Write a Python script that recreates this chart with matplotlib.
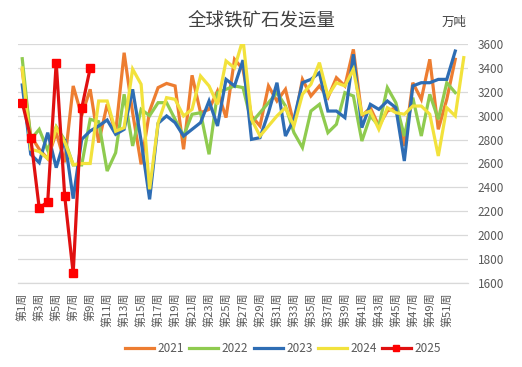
import matplotlib
matplotlib.use("Agg")
import matplotlib.pyplot as plt
import numpy as np

plt.rcParams['font.family'] = ['Noto Sans CJK SC', 'DejaVu Sans']

title = "全球铁矿石发运量"
unit = "万吨"

y2021 = [3380, 2830, 2720, 2640, 2860, 2610, 3249, 3000, 3221, 2775,
         3095, 2858, 3527, 3025, 2593, 3039, 3235, 3270, 3249, 2719,
         3338, 3025, 3053, 3207, 2984, 3472, 3388, 2998, 2914, 3249,
         3123, 3221, 2928, 3304, 3165, 3249, 3151, 3318, 3249, 3555,
         2998, 3067, 2914, 3039, 3067, 2747, 3276, 3137, 3472, 2886,
         3137, 3472]
y2022 = [3477, 2800, 2886, 2710, 2908, 2797, 2588, 2588, 2970, 2950,
         2537, 2690, 3179, 2747, 3053, 3000, 3109, 3109, 2970, 2830,
         3012, 3025, 2677, 3193, 3221, 3249, 3235, 2942, 3025, 3109,
         3193, 3081, 2858, 2733, 3039, 3095, 2858, 2928, 3193, 3165,
         2788, 2998, 2914, 3235, 3109, 2830, 3151, 2830, 3179, 2970,
         3276, 3193]
y2023 = [3257, 2677, 2607, 2858, 2565, 2802, 2306, 2802, 2872, 2914,
         2964, 2844, 2886, 3221, 2790, 2300, 2936, 2998, 2942, 2830,
         2886, 2942, 3123, 2914, 3304, 3249, 3465, 2802, 2816, 3025,
         3276, 2830, 2970, 3276, 3304, 3360, 3039, 3039, 2984, 3514,
         2900, 3095, 3053, 3123, 3067, 2621, 3249, 3276, 3276, 3304,
         3304, 3541]
y2024 = [3400, 2720, 2700, 2640, 2900, 2780, 2590, 2600, 2600, 3123,
         3123, 2870, 2900, 3390, 3263, 2384, 2940, 3151, 3137, 2998,
         3053, 3332, 3249, 3095, 3458, 3400, 3640, 2970, 2830, 2914,
         2998, 3067, 2914, 3179, 3263, 3444, 3165, 3276, 3249, 3388,
         3012, 3039, 2886, 3067, 3025, 3012, 3081, 3081, 3012, 2663,
         3067, 2998, 3486]
y2025 = [3110, 2816, 2225, 2280, 3445, 2328, 1681, 3062, 3397]

series = [("2021", y2021, "#ED7D31"),
          ("2022", y2022, "#8FCB4F"),
          ("2023", y2023, "#2E6DB4"),
          ("2024", y2024, "#F2E23C")]

n_weeks = 53
week_labels = [f"第{k}周" for k in range(1, n_weeks + 1)]

W, H = 522, 367
fig = plt.figure(figsize=(W / 100, H / 100), dpi=100)
ax = fig.add_axes([18 / W, 1 - 283 / H, (468 - 18) / W, (283 - 44) / H])

for name, vals, col in series:
    x = np.arange(1, len(vals) + 1)
    ax.plot(x, vals, color=col, lw=2.3, label=name, solid_joinstyle='miter')

x25 = np.arange(1, len(y2025) + 1)
ax.plot(x25, y2025, color="#E01010", lw=2.3, marker='s', markersize=5.5,
        markerfacecolor="#FF0000", markeredgecolor="#FF0000", label="2025")

ax.set_xlim(0.5, n_weeks + 0.5)
ax.set_ylim(1600, 3600)
ax.set_yticks(np.arange(1600, 3601, 200))
ax.yaxis.tick_right()
ax.tick_params(axis='y', length=0, pad=7, labelsize=8.5, labelcolor="#595959")
ax.grid(axis='y', color="#D9D9D9", lw=0.9)
ax.set_axisbelow(True)

ticks = list(range(1, 52, 2))
ax.set_xticks(ticks)
ax.set_xticklabels([week_labels[k - 1] for k in ticks], rotation=90,
                   fontsize=8, color="#595959", va='top', ha='center')
ax.tick_params(axis='x', length=0, pad=7)

for s in ['left', 'right', 'top']:
    ax.spines[s].set_visible(False)
ax.spines['bottom'].set_color("#D9D9D9")
ax.spines['bottom'].set_linewidth(0.9)

fig.text(262 / W, 1 - 20 / H, title, ha='center', va='center',
         fontsize=13.3, color="#404040")
fig.text(454 / W, 1 - 22 / H, unit, ha='center', va='center',
         fontsize=9, color="#404040")

leg = fig.legend(loc='center', bbox_to_anchor=(283 / W, 1 - 349 / H), ncol=5,
                 frameon=False, fontsize=8.5, handlelength=2.45,
                 handletextpad=0.3, columnspacing=0.45, borderpad=0,
                 markerscale=0.7)
for t in leg.get_texts():
    t.set_color("#595959")

fig.savefig("out.png", dpi=100)
